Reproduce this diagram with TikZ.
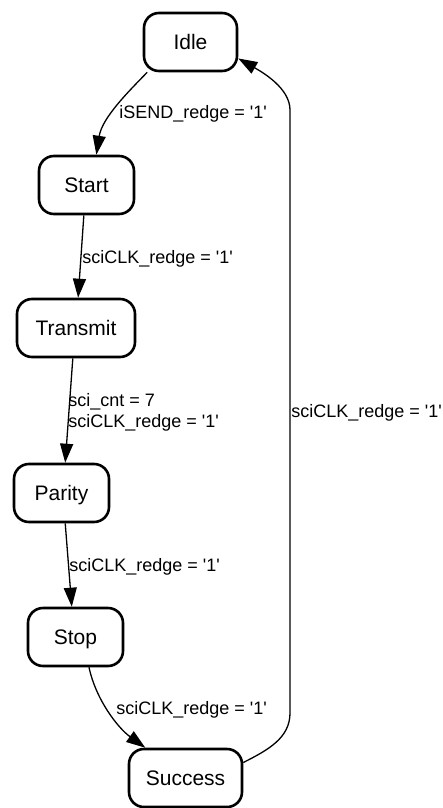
\documentclass[tikz,border=0pt]{standalone}
\usepackage{fontspec}
\setmainfont{Liberation Sans}
\usetikzlibrary{arrows.meta}
\newcommand{\sq}{\textquotesingle}

\begin{document}
\begin{tikzpicture}[
    x=0.5pt, y=-0.5pt,
    state/.style={draw, line width=1.3pt, rounded corners=7.5pt,
      minimum height=29pt, inner sep=0pt,
      text height=0.72em, text depth=0pt,
      font=\fontsize{10.5}{12}\selectfont},
    trans/.style={line width=0.65pt,
      -{Triangle[length=9.5pt,width=6.5pt]}},
    guard/.style={anchor=base west, inner sep=0pt,
      font=\fontsize{9}{10.5}\selectfont, align=left}
  ]
  \useasboundingbox (0,0) rectangle (443,808);

  % states of the transmitter FSM
  \node[state, minimum width=46.5pt] (idle)     at (190.5,42)  {Idle};
  \node[state, minimum width=47.5pt] (start)    at (86.5,185)  {Start};
  \node[state, minimum width=59pt]   (transmit) at (76,328)    {Transmit};
  \node[state, minimum width=47.5pt] (parity)   at (61.5,493)  {Parity};
  \node[state, minimum width=47.5pt] (stop)     at (75.5,637)  {Stop};
  \node[state, minimum width=56.5pt] (success)  at (185.5,778) {Success};

  % transitions
  \draw[trans] (idle.-145) .. controls (128,92) and (102,118) .. (start.72);
  \draw[trans] (start.-95) -- (transmit.86);
  \draw[trans] (transmit.-96) -- (parity.83);
  \draw[trans] (parity.-83) -- (stop.97);
  \draw[trans] (stop.-66) .. controls (96,700) and (118,728) .. (success.143);
  \draw[trans] (success.15) .. controls (268,750) and (290,738) .. (290,713)
    -- (290,110) .. controls (290,88) and (262,72) .. (idle.-19);

  % transition conditions (base of a two-line label is its last line)
  \node[guard] (g1) at (119,119) {iSEND\_redge = \sq1\sq};
  \node[guard] (g2) at (82,263)  {sciCLK\_redge = \sq1\sq};
  \node[guard] (g3) at (68,427)
    {sci\_cnt = 7\\sciCLK\_redge = \sq1\sq};
  \node[guard] (g4) at (69,571)  {sciCLK\_redge = \sq1\sq};
  \node[guard] (g5) at (116,714) {sciCLK\_redge = \sq1\sq};
  \node[guard] (g6) at (291,417) {sciCLK\_redge = \sq1\sq};
\end{tikzpicture}
\end{document}
